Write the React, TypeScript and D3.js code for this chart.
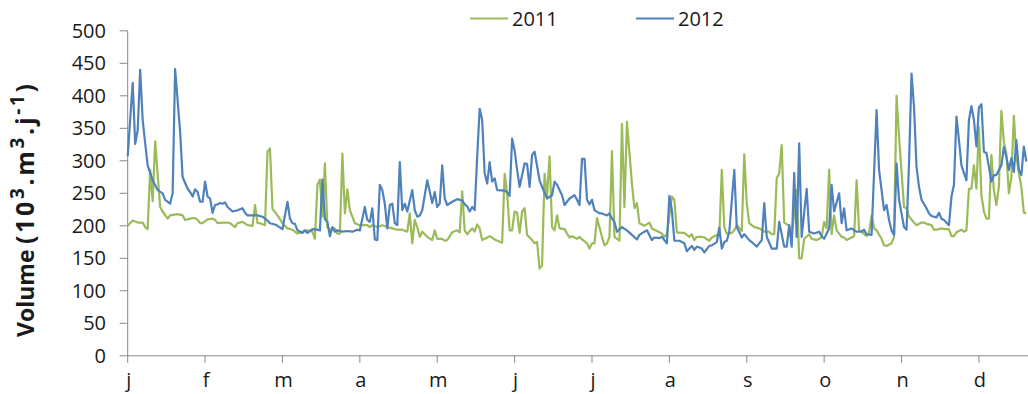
import React from "react";
import * as d3 from "d3";

const monthLabels = ["j", "f", "m", "a", "m", "j", "j", "a", "s", "o", "n", "d"];
const yTickValues = [0, 50, 100, 150, 200, 250, 300, 350, 400, 450, 500];
const seriesNames = ["2011", "2012"];
const seriesColors = ["#9BBB59", "#4F81BD"];

// [day index, volume]
const vol2011: [number, number][] = [
  [0, 200], [2, 208], [4, 205], [6, 205], [7, 198], [8, 195], [9, 286], [10, 238], [11, 330], [13, 229],
  [14, 222], [16, 211], [17, 216], [20, 218], [22, 216], [23, 209], [25, 211], [27, 212], [28, 209], [29, 204],
  [30, 204], [32, 210], [34, 211], [35, 209], [36, 204], [38, 205], [40, 205], [41, 204], [43, 198], [44, 204],
  [46, 206], [48, 201], [50, 200], [51, 232], [52, 204], [53, 204], [55, 201], [56, 314], [57, 319], [58, 226],
  [60, 216], [62, 204], [64, 196], [66, 194], [68, 188], [70, 191], [72, 193], [74, 191], [75, 180], [76, 263],
  [77, 271], [78, 214], [79, 296], [80, 198], [81, 194], [83, 196], [84, 188], [85, 188], [86, 311], [87, 219],
  [88, 256], [89, 224], [91, 204], [93, 201], [96, 201], [97, 198], [98, 201], [100, 198], [102, 201], [104, 198],
  [106, 196], [108, 194], [110, 194], [112, 191], [113, 219], [114, 173], [115, 209], [116, 198], [117, 183], [118, 191],
  [120, 183], [122, 178], [123, 193], [124, 180], [126, 180], [127, 177], [128, 178], [130, 190], [132, 193], [133, 190],
  [134, 253], [135, 193], [136, 187], [138, 196], [139, 191], [140, 202], [141, 196], [142, 178], [144, 182], [145, 184],
  [147, 179], [150, 174], [151, 280], [152, 250], [153, 193], [154, 193], [155, 222], [156, 220], [157, 189], [158, 222],
  [159, 227], [160, 186], [162, 178], [163, 173], [164, 175], [165, 134], [166, 139], [167, 280], [168, 245], [169, 307],
  [170, 198], [171, 193], [172, 216], [173, 196], [175, 195], [176, 188], [177, 182], [178, 184], [180, 180], [181, 183],
  [182, 179], [184, 173], [185, 165], [186, 173], [187, 173], [188, 212], [190, 183], [191, 170], [192, 173], [193, 183],
  [194, 315], [195, 183], [197, 177], [198, 357], [199, 229], [200, 360], [202, 265], [203, 227], [204, 235], [205, 204],
  [207, 200], [209, 205], [210, 196], [212, 192], [214, 188], [215, 183], [216, 187], [218, 245], [219, 240], [220, 190],
  [222, 189], [223, 189], [225, 183], [226, 187], [227, 178], [228, 183], [230, 183], [231, 182], [233, 177], [234, 182],
  [236, 186], [237, 185], [238, 286], [239, 198], [240, 188], [242, 189], [243, 193], [244, 201], [246, 192], [247, 310],
  [248, 234], [249, 204], [251, 198], [253, 196], [254, 194], [255, 191], [257, 191], [258, 187], [259, 187], [260, 273],
  [261, 281], [262, 324], [263, 205], [265, 200], [266, 183], [268, 255], [269, 150], [270, 150], [271, 180], [273, 187],
  [274, 180], [276, 178], [277, 180], [278, 183], [279, 206], [280, 196], [281, 286], [282, 187], [283, 216], [284, 193],
  [286, 183], [287, 182], [288, 178], [290, 182], [291, 184], [292, 270], [293, 193], [294, 191], [296, 184], [297, 190],
  [298, 216], [299, 196], [300, 193], [302, 180], [303, 170], [304, 169], [306, 173], [307, 183], [308, 400], [309, 337],
  [311, 229], [312, 227], [313, 214], [315, 205], [316, 201], [318, 205], [319, 205], [320, 203], [322, 201], [323, 194],
  [324, 194], [326, 196], [327, 195], [329, 195], [330, 184], [331, 184], [332, 190], [334, 194], [335, 191], [336, 193],
  [337, 257], [338, 257], [339, 293], [340, 257], [341, 352], [342, 247], [343, 222], [344, 211], [345, 211], [346, 309],
  [347, 255], [348, 232], [349, 260], [350, 377], [351, 329], [352, 311], [353, 250], [354, 275], [355, 369], [356, 306],
  [357, 281], [358, 260], [359, 220], [360, 219],
];

const vol2012: [number, number][] = [
  [0, 307], [2, 420], [3, 326], [4, 347], [5, 440], [6, 363], [7, 327], [8, 293], [10, 270], [12, 255],
  [14, 250], [15, 240], [17, 234], [18, 250], [19, 441], [21, 345], [22, 275], [24, 257], [25, 252], [26, 245],
  [27, 256], [28, 252], [29, 237], [30, 237], [31, 268], [32, 245], [33, 242], [34, 220], [35, 232], [36, 233],
  [37, 235], [38, 234], [39, 236], [40, 229], [42, 222], [44, 224], [46, 227], [47, 220], [48, 216], [50, 216],
  [52, 216], [54, 214], [56, 208], [57, 204], [59, 202], [60, 200], [62, 195], [64, 237], [65, 211], [66, 204],
  [67, 203], [68, 193], [70, 189], [71, 193], [72, 189], [74, 195], [76, 194], [77, 193], [78, 271], [79, 210],
  [80, 206], [81, 184], [82, 198], [83, 191], [84, 193], [86, 191], [88, 192], [90, 191], [92, 194], [93, 193],
  [95, 229], [96, 209], [97, 206], [98, 227], [99, 179], [100, 178], [101, 263], [102, 255], [103, 234], [104, 196],
  [105, 232], [106, 234], [107, 204], [108, 201], [109, 298], [110, 224], [111, 234], [112, 222], [114, 255], [115, 224],
  [116, 214], [117, 216], [118, 224], [120, 270], [122, 235], [123, 252], [124, 229], [125, 234], [126, 293], [127, 242],
  [128, 232], [130, 237], [132, 241], [134, 239], [135, 233], [136, 230], [137, 222], [138, 229], [139, 224], [140, 306],
  [141, 380], [142, 363], [143, 281], [144, 265], [145, 298], [146, 268], [147, 273], [148, 255], [151, 254], [152, 252],
  [153, 246], [154, 334], [155, 316], [156, 286], [157, 260], [159, 296], [160, 295], [161, 260], [162, 309], [163, 314],
  [165, 270], [166, 260], [168, 242], [170, 247], [171, 268], [172, 263], [174, 247], [175, 232], [177, 242], [179, 247],
  [180, 240], [181, 232], [182, 303], [183, 303], [184, 240], [185, 233], [186, 240], [187, 224], [189, 219], [190, 219],
  [192, 216], [193, 219], [194, 211], [195, 206], [196, 191], [198, 198], [200, 193], [202, 186], [204, 179], [205, 186],
  [207, 191], [208, 193], [210, 178], [211, 182], [213, 181], [214, 183], [216, 173], [217, 246], [218, 224], [219, 177],
  [221, 177], [223, 173], [224, 161], [225, 165], [226, 169], [227, 163], [228, 168], [230, 165], [231, 159], [233, 169],
  [234, 170], [236, 175], [237, 197], [238, 165], [239, 175], [240, 177], [241, 191], [243, 286], [244, 198], [246, 182],
  [247, 187], [249, 178], [250, 175], [252, 168], [254, 178], [255, 235], [256, 183], [258, 165], [260, 165], [261, 206],
  [263, 168], [264, 168], [265, 201], [266, 168], [267, 281], [268, 183], [269, 327], [270, 183], [272, 257], [273, 191],
  [275, 188], [277, 191], [278, 184], [279, 180], [281, 196], [282, 263], [283, 222], [285, 250], [286, 204], [287, 227],
  [288, 193], [290, 196], [291, 193], [292, 191], [294, 191], [295, 194], [296, 187], [298, 186], [300, 378], [301, 286],
  [303, 224], [304, 232], [305, 209], [306, 193], [307, 186], [308, 296], [309, 240], [311, 198], [312, 194], [313, 296],
  [314, 434], [315, 383], [316, 291], [317, 260], [318, 240], [320, 227], [321, 219], [322, 215], [324, 213], [325, 220],
  [326, 211], [327, 209], [329, 201], [330, 245], [331, 263], [332, 368], [333, 332], [334, 293], [336, 270], [337, 363],
  [338, 384], [339, 363], [340, 322], [341, 382], [342, 387], [343, 314], [344, 312], [345, 291], [346, 268], [347, 278],
  [348, 278], [350, 293], [351, 321], [352, 306], [353, 286], [354, 304], [355, 283], [356, 332], [357, 286], [358, 278],
  [359, 322], [360, 299],
];

export default function App() {
  const W = 1028;
  const H = 394;
  const x = d3.scaleLinear().domain([0, 372]).range([127.7, 1056.3]);
  const y = d3.scaleLinear().domain([0, 500]).range([355.8, 30.8]);
  const line = d3
    .line<[number, number]>()
    .x((d) => x(d[0]))
    .y((d) => y(d[1]));
  const axisColor = "#898989";
  const font = "'Open Sans', sans-serif";
  const textColor = "#1a1a1a";
  const monthTicks = monthLabels.map((_, i) => i * 31);
  const data = [vol2011, vol2012];
  const legendX = [470, 636];

  return (
    <svg
      width={W}
      height={H}
      style={{ position: "absolute", left: 0, top: 0, background: "#fff" }}
    >
      <rect width={W} height={H} fill="#fff" />
      {/* y axis */}
      <line x1={x(0)} x2={x(0)} y1={y(500)} y2={y(0)} stroke={axisColor} strokeWidth={1} />
      {yTickValues.map((v) => (
        <g key={v}>
          <line x1={x(0) - 8} x2={x(0)} y1={y(v)} y2={y(v)} stroke={axisColor} strokeWidth={1} />
          <text
            x={106}
            y={y(v) + 7}
            textAnchor="end"
            fontFamily={font}
            fontSize={20}
            fill={textColor}
          >
            {v}
          </text>
        </g>
      ))}
      {/* x axis */}
      <line x1={x(0)} x2={W} y1={y(0)} y2={y(0)} stroke={axisColor} strokeWidth={1} />
      {monthTicks.map((t, i) => (
        <g key={i}>
          <line x1={x(t)} x2={x(t)} y1={y(0)} y2={y(0) + 7} stroke={axisColor} strokeWidth={1} />
          <text
            x={x(t) + 1}
            y={387}
            textAnchor="middle"
            fontFamily={font}
            fontSize={20}
            fill={textColor}
          >
            {monthLabels[i]}
          </text>
        </g>
      ))}
      {/* series */}
      {data.map((s, i) => (
        <path
          key={i}
          d={line(s) || ""}
          fill="none"
          stroke={seriesColors[i]}
          strokeWidth={2.2}
          strokeLinejoin="round"
        />
      ))}
      {/* legend */}
      {seriesNames.map((n, i) => (
        <g key={n}>
          <line
            x1={legendX[i]}
            x2={legendX[i] + 38}
            y1={18.5}
            y2={18.5}
            stroke={seriesColors[i]}
            strokeWidth={2}
          />
          <text
            x={legendX[i] + 42}
            y={26}
            fontFamily={font}
            fontSize={20}
            fill={textColor}
          >
            {n}
          </text>
        </g>
      ))}
      {/* y title */}
      <text
        transform="translate(34,337) rotate(-90)"
        fontFamily={font}
        fontWeight="bold"
        fontSize={23}
        fill={textColor}
      >
        Volume
      </text>
      <text
        transform="translate(34,244) rotate(-90)"
        fontFamily={font}
        fontWeight="bold"
        fontSize={25}
        fill={textColor}
        textLength={160}
        lengthAdjust="spacing"
      >
        <tspan>(10</tspan>
        <tspan dy={-10} fontSize={19}>3</tspan>
        <tspan dy={10}>.m</tspan>
        <tspan dy={-10} fontSize={19}>3</tspan>
        <tspan dy={10}>.j</tspan>
        <tspan dy={-10} fontSize={19}>-1</tspan>
        <tspan dy={10}>)</tspan>
      </text>
    </svg>
  );
}
